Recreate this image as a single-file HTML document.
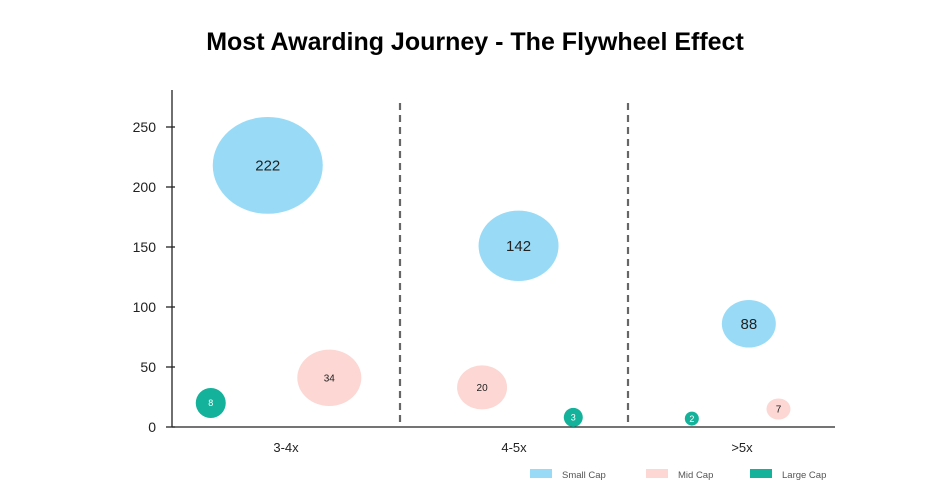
<!DOCTYPE html>
<html><head><meta charset="utf-8"><style>
body{margin:0;background:#fff;}
svg{display:block;font-family:"Liberation Sans",sans-serif;}
</style></head><body>
<svg width="950" height="490" viewBox="0 0 950 490">
<text x="475" y="50" text-anchor="middle" font-size="25" font-weight="bold" fill="#000">Most Awarding Journey - The Flywheel Effect</text>
<g id="axes"></g>
<g id="bubbles"></g>
<g id="legend"></g>
</svg>
<script>
const categories = ["3-4x","4-5x",">5x"];
const yTicks = [0,50,100,150,200,250];
const seriesNames = ["Small Cap","Mid Cap","Large Cap"];
const seriesColors = ["#99dbf6","#fcd7d3","#14b29a"];
const smallX = [0.42,1.52,2.53];
const smallY = [218,151,86];
const smallVal = [222,142,88];
const smallSize = [55,40,27];
const midX = [0.69,1.36,2.66];
const midY = [41,33,15];
const midVal = [34,20,7];
const midSize = [32,25,12];
const largeX = [0.17,1.76,2.28];
const largeY = [20,8,7];
const largeVal = [8,3,2];
const largeSize = [15,9.5,7];

const NS="http://www.w3.org/2000/svg";
const x0=172, bandW=228, y0=427, yScale=1.2;
const xs=v=>x0+v*bandW;
const ys=v=>y0-v*yScale;
function mk(tag,attrs,parent){const e=document.createElementNS(NS,tag);for(const k in attrs)e.setAttribute(k,attrs[k]);parent.appendChild(e);return e;}
const axes=document.getElementById('axes');
let yl=mk('line',{x1:x0,y1:90,x2:x0,y2:y0,stroke:'#222','stroke-width':1.3},axes);


let xl=mk('line',{x1:x0,y1:y0,x2:835,y2:y0,stroke:'#222','stroke-width':1.3},axes);


yTicks.forEach(t=>{
  const tk=mk('line',{x1:x0-6,y1:ys(t),x2:x0+3,y2:ys(t),stroke:'#222','stroke-width':1.3},axes);
  
  
  const tx=mk('text',{x:x0-16,y:ys(t)+5,'text-anchor':'end','font-size':14,fill:'#222'},axes);
  
  
  tx.textContent=t;
});
categories.forEach((c,i)=>{
  const tx=mk('text',{x:xs(i+0.5),y:452,'text-anchor':'middle','font-size':13,fill:'#222'},axes);
  
  
  tx.textContent=c;
  if(i>0){
    const d=mk('line',{x1:xs(i),y1:103,x2:xs(i),y2:y0,stroke:'#666','stroke-width':2.2,'stroke-dasharray':'7,5'},axes);
    
    
  }
});
const bub=document.getElementById('bubbles');
const series=[[smallX,smallY,smallVal,smallSize],[midX,midY,midVal,midSize],[largeX,largeY,largeVal,largeSize]];
series.forEach((s,si)=>{
  s[0].forEach((xv,i)=>{
    const r=s[3][i];
    const e=mk('ellipse',{cx:xs(xv),cy:ys(s[1][i]),rx:r,ry:r*(si===2?1:0.88),fill:seriesColors[si]},bub);
    
    
    const fs=si===0?15:(si===1?10:9);
    const t=mk('text',{x:xs(xv),y:ys(s[1][i])+fs*0.35,'text-anchor':'middle','font-size':fs,fill:si===2?'#fff':'#222'},bub);
    
    
    t.textContent=s[2][i];
  });
});
const lg=document.getElementById('legend');
const lx=[530,646,750];
seriesNames.forEach((n,i)=>{
  const r=mk('rect',{x:lx[i],y:469,width:22,height:9,fill:seriesColors[i]},lg);
  
  
  const t=mk('text',{x:lx[i]+32,y:478,'font-size':9.5,fill:'#555'},lg);
  
  
  t.textContent=n;
});
</script>
</body></html>
